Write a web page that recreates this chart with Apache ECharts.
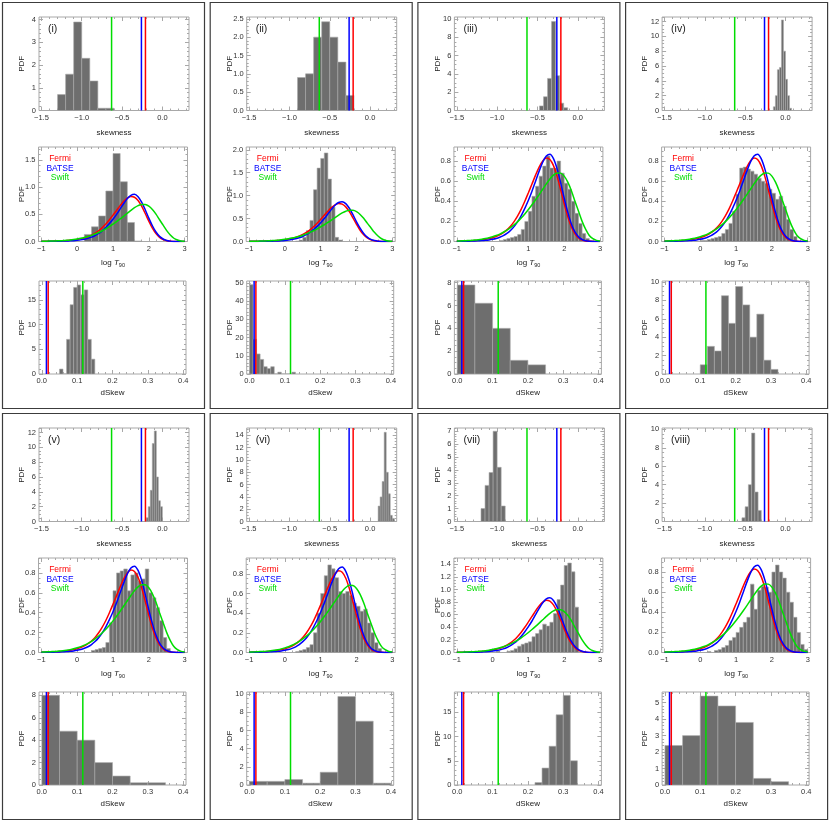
<!DOCTYPE html>
<html>
<head>
<meta charset="utf-8">
<script src="https://cdn.jsdelivr.net/npm/echarts@6/dist/echarts.min.js"></script>
<style>
  html, body { margin: 0; padding: 0; background: #fff; }
  #chart { width: 830px; height: 822px; }
</style>
</head>
<body>
<div id="chart"></div>
<script>
// ---- data ----
const panelLabels = ["(i)", "(ii)", "(iii)", "(iv)", "(v)", "(vi)", "(vii)", "(viii)"];

const sampleNames = ["Fermi", "BATSE", "Swift"];
const sampleColors = ["#ff0000", "#0000ff", "#00dd00"];
const skewObserved = [-0.21, -0.26, -0.63];
const dSkewObserved = [0.018, 0.013, 0.116];

// fitted log T90 distributions
const logT = [-1.0, -0.9, -0.8, -0.7, -0.6, -0.5, -0.4, -0.3, -0.2, -0.1, 0.0, 0.1, 0.2, 0.3, 0.4, 0.5, 0.6, 0.7, 0.8, 0.9,
  1.0, 1.1, 1.2, 1.3, 1.4, 1.5, 1.6, 1.7, 1.8, 1.9, 2.0, 2.1, 2.2, 2.3, 2.4, 2.5, 2.6, 2.7, 2.8, 2.9, 3.0];
const fermiPdf = [0.003, 0.004, 0.005, 0.006, 0.008, 0.010, 0.013, 0.017, 0.022, 0.029, 0.038, 0.050, 0.066, 0.088, 0.116, 0.152, 0.198, 0.255, 0.322, 0.400,
  0.485, 0.572, 0.660, 0.740, 0.800, 0.830, 0.815, 0.755, 0.650, 0.515, 0.375, 0.245, 0.145, 0.077, 0.036, 0.015, 0.005, 0.0015, 0.0004, 0.0001, 0.0];
const batsePdf = [0.001, 0.0015, 0.002, 0.003, 0.004, 0.005, 0.007, 0.009, 0.012, 0.016, 0.022, 0.030, 0.042, 0.058, 0.080, 0.110, 0.148, 0.197, 0.258, 0.330,
  0.410, 0.500, 0.600, 0.700, 0.790, 0.850, 0.868, 0.825, 0.725, 0.585, 0.430, 0.290, 0.175, 0.095, 0.046, 0.020, 0.007, 0.002, 0.0005, 0.0001, 0.0];
const swiftPdf = [0.004, 0.005, 0.007, 0.009, 0.011, 0.014, 0.018, 0.023, 0.029, 0.037, 0.047, 0.059, 0.074, 0.092, 0.113, 0.138, 0.166, 0.198, 0.234, 0.274,
  0.318, 0.365, 0.415, 0.467, 0.520, 0.573, 0.622, 0.660, 0.682, 0.680, 0.650, 0.590, 0.505, 0.400, 0.300, 0.200, 0.120, 0.060, 0.028, 0.011, 0.004];

// skewness histograms (first bin edge, bin width, heights)
const skewBinStart = [-1.3, -0.9, -0.475, -0.15, -0.2, 0.1, -1.2, -0.54];
const skewBinWidth = [0.1, 0.1, 0.05, 0.025, 0.025, 0.025, 0.05, 0.04];
const skewHist = [
  [0.7, 1.6, 3.9, 2.3, 1.3, 0.1, 0.1],
  [0.9, 1.0, 2.0, 2.42, 2.0, 1.32, 0.41],
  [0.5, 1.5, 3.5, 9.7, 3.8, 0.8, 0.3],
  [0.5, 2.0, 5.5, 5.8, 12.2, 8.0, 4.2, 2.0, 0.3],
  [0.5, 2.0, 4.2, 10.5, 12.2, 6.0, 2.8, 2.0],
  [2.5, 4.0, 6.5, 14.5, 8.0, 4.5, 1.0, 0.5],
  [1.0, 2.8, 3.8, 7.0, 4.2, 1.2],
  [0.4, 1.6, 4.0, 9.6, 3.2, 1.2]
];
const skewPdfMax = [4.12, 2.55, 10.2, 12.6, 12.6, 15.2, 7.25, 10.15];
const skewPdfTicks = [
  [0, 1, 2, 3, 4], [0, 0.5, 1, 1.5, 2, 2.5], [0, 2, 4, 6, 8, 10], [0, 2, 4, 6, 8, 10, 12],
  [0, 2, 4, 6, 8, 10, 12], [0, 2, 4, 6, 8, 10, 12, 14], [0, 1, 2, 3, 4, 5, 6, 7], [0, 2, 4, 6, 8, 10]
];

// log T90 histograms
const logTBinStart = [0.2, 0.3, 0.2, 0.0, 0.4, 0.3, 0.1, 0.2];
const logTBinWidth = [0.2, 0.1, 0.1, 0.1, 0.1, 0.1, 0.1, 0.1];
const logTHist = [
  [0.13, 0.27, 0.47, 0.93, 1.62, 1.1, 0.35, 0.01],
  [0.01, 0.03, 0.09, 0.24, 0.46, 1.13, 1.6, 1.81, 1.93, 1.36, 0.75, 0.09, 0.03],
  [0.01, 0.02, 0.03, 0.04, 0.05, 0.07, 0.12, 0.2, 0.3, 0.45, 0.55, 0.65, 0.75, 0.85, 0.73, 0.73, 0.8, 0.68, 0.58, 0.52, 0.4, 0.28, 0.18, 0.08, 0.03, 0.01],
  [0.01, 0.01, 0.02, 0.03, 0.04, 0.05, 0.08, 0.12, 0.18, 0.3, 0.47, 0.73, 0.74, 0.72, 0.7, 0.67, 0.63, 0.6, 0.58, 0.52, 0.48, 0.42, 0.45, 0.35, 0.22, 0.12, 0.05],
  [0.02, 0.03, 0.04, 0.05, 0.1, 0.3, 0.62, 0.8, 0.82, 0.84, 0.62, 0.78, 0.8, 0.72, 0.74, 0.84, 0.6, 0.55, 0.45, 0.32, 0.15, 0.04],
  [0.01, 0.02, 0.03, 0.05, 0.08, 0.2, 0.4, 0.6, 0.78, 0.89, 0.85, 0.76, 0.62, 0.6, 0.62, 0.58, 0.5, 0.47, 0.42, 0.44, 0.3, 0.2, 0.1, 0.04],
  [0.02, 0, 0, 0.02, 0.03, 0.06, 0.1, 0.13, 0.15, 0.17, 0.25, 0.3, 0.36, 0.45, 0.42, 0.48, 0.62, 0.84, 1.07, 1.38, 1.42, 1.28, 0.72],
  [0.01, 0, 0.02, 0.03, 0.05, 0.07, 0.12, 0.15, 0.2, 0.25, 0.3, 0.35, 0.68, 0.43, 0.62, 0.66, 0.65, 0.6, 0.8, 0.87, 0.8, 0.74, 0.6, 0.5, 0.35, 0.2, 0.08, 0.03]
];
const logTPdfMax = [1.74, 2.06, 0.94, 0.94, 0.95, 0.96, 1.5, 0.94];
const logTPdfTicks = [
  [0, 0.5, 1, 1.5], [0, 0.5, 1, 1.5, 2], [0, 0.2, 0.4, 0.6, 0.8], [0, 0.2, 0.4, 0.6, 0.8],
  [0, 0.2, 0.4, 0.6, 0.8], [0, 0.2, 0.4, 0.6, 0.8], [0, 0.2, 0.4, 0.6, 0.8, 1, 1.2, 1.4], [0, 0.2, 0.4, 0.6, 0.8]
];

// dSkew histograms
const dSkewBinStart = [0.05, 0.0, 0.0, 0.1, 0.0, 0.0, 0.22, 0.0];
const dSkewBinWidth = [0.01, 0.01, 0.05, 0.02, 0.05, 0.05, 0.02, 0.05];
const dSkewHist = [
  [1, 0, 7, 14, 17.5, 18, 16, 17, 7, 3],
  [49, 19, 11, 8, 4, 3, 4, 0, 1, 0, 0, 0, 1],
  [7.8, 6.2, 4.0, 1.2, 0.8],
  [1.0, 3.0, 2.5, 8.5, 5.5, 9.5, 7.5, 4.0, 6.5, 1.5, 0.5],
  [8.0, 4.8, 4.0, 2.0, 0.8, 0.2, 0.2],
  [0.4, 0.4, 0.6, 0.2, 1.4, 9.7, 7.0, 0.2],
  [0.5, 3.5, 8.0, 14.5, 18.5, 5.0],
  [2.4, 3.0, 5.4, 4.8, 3.8, 0.4, 0.2]
];
const dSkewPdfMax = [18.8, 51, 8.15, 10.1, 8.3, 10.2, 19.2, 5.65];
const dSkewPdfTicks = [
  [0, 5, 10, 15], [0, 10, 20, 30, 40, 50], [0, 2, 4, 6, 8], [0, 2, 4, 6, 8, 10],
  [0, 2, 4, 6, 8], [0, 2, 4, 6, 8, 10], [0, 5, 10, 15], [0, 1, 2, 3, 4, 5]
];

const skewTicks = [-1.5, -1.0, -0.5, 0.0];
const logTTicks = [-1, 0, 1, 2, 3];
const dSkewTicks = [0.0, 0.1, 0.2, 0.3, 0.4];

// ---- layout / style ----
const FONT = '"Liberation Sans", Arial, sans-serif';
const frameColor = "#a8a8a8";
const tickText = "#333";
const barFill = "#6e6e6e";
const barEdge = "#a9a9a9";

const colX = [2, 209.7, 417.4, 625.1];
const rowY = [2, 413];
const panelW = 202, panelH = 406;
// subplot frames relative to a panel: left, top, width, height
const plotBoxes = [[37, 15, 150, 93.5], [36.5, 145, 149, 94.5], [37, 279, 147, 93]];
const xRanges = [[-1.53, 0.33], [-1.08, 3.08], [-0.008, 0.408]];
const nameGaps = [18, 16, 15];

const grids = [], xAxes = [], yAxes = [], series = [], graphics = [];

function fmt(v, dec) {
  const s = Math.abs(v).toFixed(dec);
  return v < -1e-9 ? "\u2212" + s : s;
}

function minorsOf(majors, min, max) {
  const step = majors[1] - majors[0];
  const mag = Math.pow(10, Math.floor(Math.log10(step) + 1e-9));
  const n = Math.round(step / mag) === 2 ? 4 : 5;
  const sub = step / n;
  const out = [];
  for (let k = Math.ceil((min - majors[0]) / sub - 1e-9); majors[0] + k * sub <= max + 1e-9; k++) {
    if (((k % n) + n) % n !== 0) out.push(+(majors[0] + k * sub).toFixed(6));
  }
  return out;
}

function axis(g, pos, range, vals, len, labelDec, extra) {
  const a = {
    type: "value", gridIndex: g, position: pos, min: range[0], max: range[1], silent: true,
    axisLine: { show: false, onZero: false },
    splitLine: { show: false },
    axisTick: { show: true, inside: true, length: len, customValues: vals, lineStyle: { color: frameColor, width: 1 } },
    axisLabel: labelDec === null ? { show: false } : {
      show: true, customValues: vals, interval: 0, hideOverlap: false,
      formatter: (v) => fmt(v, labelDec), fontSize: 7.5, color: tickText, fontFamily: FONT, margin: 3
    }
  };
  return Object.assign(a, extra || {});
}

function decOf(ticks) {
  return ticks[1] - ticks[0] < 1 ? 1 : 0;
}

function addPlot(px, py, k, xTicks, yMax, yTicks, xName) {
  const box = plotBoxes[k], xr = xRanges[k];
  const g = grids.length;
  grids.push({
    left: px + box[0], top: py + box[1], width: box[2], height: box[3],
    show: true, borderColor: frameColor, borderWidth: 1, backgroundColor: "transparent", containLabel: false
  });
  const yr = [0, yMax];
  const xi = xAxes.length, yi = yAxes.length;
  const xMin = minorsOf(xTicks, xr[0], xr[1]);
  const yMin = minorsOf(yTicks, yr[0], yr[1]);
  xAxes.push(axis(g, "bottom", xr, xTicks, 4, decOf(xTicks), {
    name: xName, nameLocation: "middle", nameGap: nameGaps[k],
    nameTextStyle: {
      fontSize: 8, color: "#222", fontFamily: FONT,
      rich: {
        n: { fontSize: 8, color: "#222", fontFamily: FONT },
        t: { fontSize: 8, color: "#222", fontFamily: FONT, fontStyle: "italic" },
        s: { fontSize: 5.5, color: "#222", fontFamily: FONT, padding: [5, 0, 0, 0] }
      }
    }
  }));
  xAxes.push(axis(g, "top", xr, xTicks, 4, null));
  xAxes.push(axis(g, "bottom", xr, xMin, 2, null));
  xAxes.push(axis(g, "top", xr, xMin, 2, null));
  yAxes.push(axis(g, "left", yr, yTicks, 4, decOf(yTicks)));
  yAxes.push(axis(g, "right", yr, yTicks, 4, null));
  yAxes.push(axis(g, "left", yr, yMin, 2, null));
  yAxes.push(axis(g, "right", yr, yMin, 2, null));

  // "PDF" label
  graphics.push({
    type: "text", x: px + 20, y: py + box[1] + box[3] / 2, rotation: Math.PI / 2, silent: true,
    style: { text: "PDF", font: "8px " + FONT, fill: "#222", align: "center", verticalAlign: "middle", textAlign: "center", textVerticalAlign: "middle" }
  });
  return { xi, yi };
}

function histSeries(ax, start, width, heights) {
  const bins = heights.map((h, i) => [start + i * width, start + (i + 1) * width, h]);
  return {
    type: "custom", xAxisIndex: ax.xi, yAxisIndex: ax.yi, silent: true, z: 2, clip: true,
    encode: { x: [0, 1], y: 2 },
    data: bins,
    renderItem: (params, api) => {
      const a = api.coord([api.value(0), api.value(2)]);
      const b = api.coord([api.value(1), 0]);
      return {
        type: "rect",
        shape: { x: a[0], y: a[1], width: b[0] - a[0], height: b[1] - a[1] },
        style: { fill: barFill, stroke: barEdge, lineWidth: 0.6 }
      };
    }
  };
}

function vLines(ax, values, yMax) {
  // Swift first, then BATSE, then Fermi on top
  [2, 1, 0].forEach((i) => {
    series.push({
      type: "line", xAxisIndex: ax.xi, yAxisIndex: ax.yi, silent: true, z: 5,
      showSymbol: false, animation: false,
      data: [[values[i], 0], [values[i], yMax]],
      lineStyle: { color: sampleColors[i], width: 1.5 }
    });
  });
}

const curves = [fermiPdf, batsePdf, swiftPdf];

for (let p = 0; p < 8; p++) {
  const px = colX[p % 4], py = rowY[Math.floor(p / 4)];

  // panel border and label
  graphics.push({
    type: "rect", silent: true, z: 0,
    shape: { x: px + 0.5, y: py + 0.5, width: panelW, height: panelH },
    style: { fill: "none", stroke: "#3c3c3c", lineWidth: 1.2 }
  });
  graphics.push({
    type: "text", x: px + 46, y: py + 27, silent: true,
    style: { text: panelLabels[p], font: "10.5px " + FONT, fill: "#222", align: "left", verticalAlign: "middle", textAlign: "left", textVerticalAlign: "middle" }
  });

  // skewness
  const a1 = addPlot(px, py, 0, skewTicks, skewPdfMax[p], skewPdfTicks[p], "skewness");
  series.push(histSeries(a1, skewBinStart[p], skewBinWidth[p], skewHist[p]));
  vLines(a1, skewObserved, skewPdfMax[p]);

  // log T90
  const a2 = addPlot(px, py, 1, logTTicks, logTPdfMax[p], logTPdfTicks[p], "{n|log }{t|T}{s|90}");
  series.push(histSeries(a2, logTBinStart[p], logTBinWidth[p], logTHist[p]));
  curves.forEach((c, i) => {
    series.push({
      type: "line", xAxisIndex: a2.xi, yAxisIndex: a2.yi, silent: true, z: 5,
      showSymbol: false, smooth: 0.3, animation: false,
      data: logT.map((x, j) => [x, c[j]]),
      lineStyle: { color: sampleColors[i], width: 1.5 }
    });
  });
  sampleNames.forEach((name, i) => {
    graphics.push({
      type: "text", x: px + 58, y: py + 157 + i * 9.5, silent: true, z: 10,
      style: { text: name, font: "8.5px " + FONT, fill: sampleColors[i], align: "center", verticalAlign: "middle", textAlign: "center", textVerticalAlign: "middle" }
    });
  });

  // dSkew
  const a3 = addPlot(px, py, 2, dSkewTicks, dSkewPdfMax[p], dSkewPdfTicks[p], "dSkew");
  series.push(histSeries(a3, dSkewBinStart[p], dSkewBinWidth[p], dSkewHist[p]));
  vLines(a3, dSkewObserved, dSkewPdfMax[p]);
}

const chart = echarts.init(document.getElementById("chart"), null, { renderer: "canvas" });
chart.setOption({
  animation: false,
  backgroundColor: "#ffffff",
  textStyle: { fontFamily: FONT },
  grid: grids,
  xAxis: xAxes,
  yAxis: yAxes,
  series: series,
  graphic: { elements: graphics }
});
window.addEventListener("resize", () => chart.resize());
</script>
</body>
</html>
